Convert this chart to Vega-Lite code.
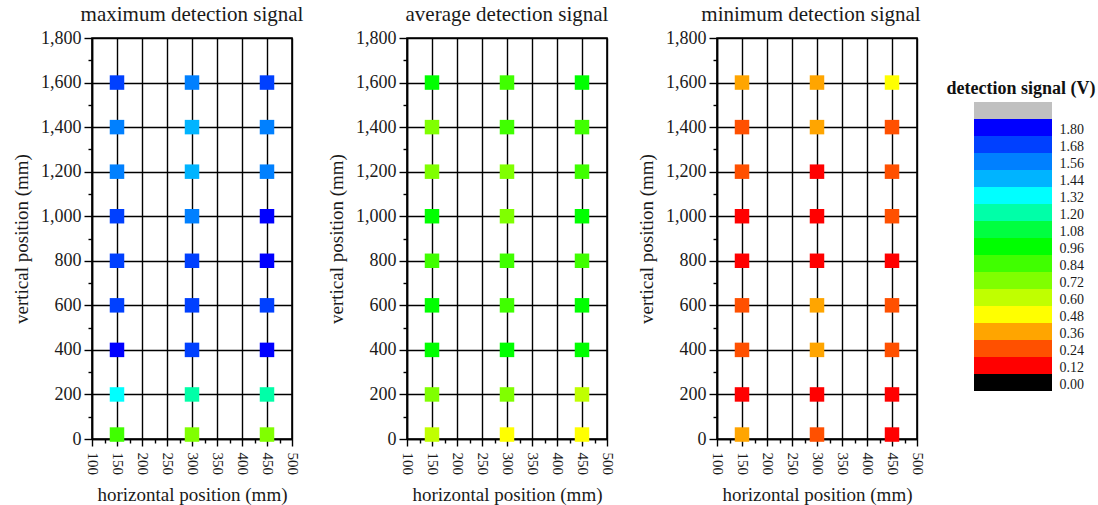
{
  "$schema": "https://vega.github.io/schema/vega-lite/v6.json",
  "background": "white",
  "padding": {"left": 11, "top": 3, "right": 2, "bottom": 0},
  "spacing": 21,
  "bounds": "full",
  "datasets": {
    "points": [
      {"panel": "max", "x": 150, "y": 1600, "signal": 1.63}, {"panel": "max", "x": 300, "y": 1600, "signal": 1.51}, {"panel": "max", "x": 450, "y": 1600, "signal": 1.62},
      {"panel": "max", "x": 150, "y": 1400, "signal": 1.49}, {"panel": "max", "x": 300, "y": 1400, "signal": 1.40}, {"panel": "max", "x": 450, "y": 1400, "signal": 1.50},
      {"panel": "max", "x": 150, "y": 1200, "signal": 1.47}, {"panel": "max", "x": 300, "y": 1200, "signal": 1.39}, {"panel": "max", "x": 450, "y": 1200, "signal": 1.48},
      {"panel": "max", "x": 150, "y": 1000, "signal": 1.61}, {"panel": "max", "x": 300, "y": 1000, "signal": 1.52}, {"panel": "max", "x": 450, "y": 1000, "signal": 1.72},
      {"panel": "max", "x": 150, "y": 800, "signal": 1.64}, {"panel": "max", "x": 300, "y": 800, "signal": 1.60}, {"panel": "max", "x": 450, "y": 800, "signal": 1.70},
      {"panel": "max", "x": 150, "y": 600, "signal": 1.62}, {"panel": "max", "x": 300, "y": 600, "signal": 1.60}, {"panel": "max", "x": 450, "y": 600, "signal": 1.63},
      {"panel": "max", "x": 150, "y": 400, "signal": 1.71}, {"panel": "max", "x": 300, "y": 400, "signal": 1.64}, {"panel": "max", "x": 450, "y": 400, "signal": 1.73},
      {"panel": "max", "x": 150, "y": 200, "signal": 1.27}, {"panel": "max", "x": 300, "y": 200, "signal": 1.15}, {"panel": "max", "x": 450, "y": 200, "signal": 1.16},
      {"panel": "max", "x": 150, "y": 20, "signal": 0.78}, {"panel": "max", "x": 300, "y": 20, "signal": 0.67}, {"panel": "max", "x": 450, "y": 20, "signal": 0.66},
      {"panel": "avg", "x": 150, "y": 1600, "signal": 0.90}, {"panel": "avg", "x": 300, "y": 1600, "signal": 0.80}, {"panel": "avg", "x": 450, "y": 1600, "signal": 0.91},
      {"panel": "avg", "x": 150, "y": 1400, "signal": 0.68}, {"panel": "avg", "x": 300, "y": 1400, "signal": 0.79}, {"panel": "avg", "x": 450, "y": 1400, "signal": 0.80},
      {"panel": "avg", "x": 150, "y": 1200, "signal": 0.67}, {"panel": "avg", "x": 300, "y": 1200, "signal": 0.70}, {"panel": "avg", "x": 450, "y": 1200, "signal": 0.79},
      {"panel": "avg", "x": 150, "y": 1000, "signal": 0.86}, {"panel": "avg", "x": 300, "y": 1000, "signal": 0.69}, {"panel": "avg", "x": 450, "y": 1000, "signal": 0.87},
      {"panel": "avg", "x": 150, "y": 800, "signal": 0.80}, {"panel": "avg", "x": 300, "y": 800, "signal": 0.79}, {"panel": "avg", "x": 450, "y": 800, "signal": 0.81},
      {"panel": "avg", "x": 150, "y": 600, "signal": 0.88}, {"panel": "avg", "x": 300, "y": 600, "signal": 0.80}, {"panel": "avg", "x": 450, "y": 600, "signal": 0.89},
      {"panel": "avg", "x": 150, "y": 400, "signal": 0.90}, {"panel": "avg", "x": 300, "y": 400, "signal": 0.89}, {"panel": "avg", "x": 450, "y": 400, "signal": 0.91},
      {"panel": "avg", "x": 150, "y": 200, "signal": 0.66}, {"panel": "avg", "x": 300, "y": 200, "signal": 0.67}, {"panel": "avg", "x": 450, "y": 200, "signal": 0.58},
      {"panel": "avg", "x": 150, "y": 20, "signal": 0.55}, {"panel": "avg", "x": 300, "y": 20, "signal": 0.44}, {"panel": "avg", "x": 450, "y": 20, "signal": 0.43},
      {"panel": "min", "x": 150, "y": 1600, "signal": 0.31}, {"panel": "min", "x": 300, "y": 1600, "signal": 0.30}, {"panel": "min", "x": 450, "y": 1600, "signal": 0.40},
      {"panel": "min", "x": 150, "y": 1400, "signal": 0.20}, {"panel": "min", "x": 300, "y": 1400, "signal": 0.29}, {"panel": "min", "x": 450, "y": 1400, "signal": 0.19},
      {"panel": "min", "x": 150, "y": 1200, "signal": 0.18}, {"panel": "min", "x": 300, "y": 1200, "signal": 0.08}, {"panel": "min", "x": 450, "y": 1200, "signal": 0.20},
      {"panel": "min", "x": 150, "y": 1000, "signal": 0.07}, {"panel": "min", "x": 300, "y": 1000, "signal": 0.09}, {"panel": "min", "x": 450, "y": 1000, "signal": 0.17},
      {"panel": "min", "x": 150, "y": 800, "signal": 0.06}, {"panel": "min", "x": 300, "y": 800, "signal": 0.08}, {"panel": "min", "x": 450, "y": 800, "signal": 0.07},
      {"panel": "min", "x": 150, "y": 600, "signal": 0.19}, {"panel": "min", "x": 300, "y": 600, "signal": 0.28}, {"panel": "min", "x": 450, "y": 600, "signal": 0.18},
      {"panel": "min", "x": 150, "y": 400, "signal": 0.20}, {"panel": "min", "x": 300, "y": 400, "signal": 0.30}, {"panel": "min", "x": 450, "y": 400, "signal": 0.21},
      {"panel": "min", "x": 150, "y": 200, "signal": 0.05}, {"panel": "min", "x": 300, "y": 200, "signal": 0.07}, {"panel": "min", "x": 450, "y": 200, "signal": 0.06},
      {"panel": "min", "x": 150, "y": 20, "signal": 0.29}, {"panel": "min", "x": 300, "y": 20, "signal": 0.17}, {"panel": "min", "x": 450, "y": 20, "signal": 0.08}
    ],
    "legend": [
      {"band": "title", "label": "detection signal (V)"},
      {"band": "grey", "signal": 1.90},
      {"band": "1.80", "signal": 1.74},
      {"band": "1.68", "signal": 1.62},
      {"band": "1.56", "signal": 1.50},
      {"band": "1.44", "signal": 1.38},
      {"band": "1.32", "signal": 1.26},
      {"band": "1.20", "signal": 1.14},
      {"band": "1.08", "signal": 1.02},
      {"band": "0.96", "signal": 0.90},
      {"band": "0.84", "signal": 0.78},
      {"band": "0.72", "signal": 0.66},
      {"band": "0.60", "signal": 0.54},
      {"band": "0.48", "signal": 0.42},
      {"band": "0.36", "signal": 0.30},
      {"band": "0.24", "signal": 0.18},
      {"band": "0.12", "signal": 0.06},
      {"band": "0.00", "signal": -0.06}
    ]
  },
  "hconcat": [
    {
      "width": 200, "height": 401,
      "title": "maximum detection signal",
      "data": {"name": "points"},
      "transform": [{"filter": "datum.panel === 'max'"}],
      "mark": {"type": "square", "size": 210, "opacity": 1},
      "encoding": {
        "x": {"field": "x", "type": "quantitative", "scale": {"domain": [100, 500], "nice": false, "zero": false},
          "axis": {"values": [100,125,150,175,200,225,250,275,300,325,350,375,400,425,450,475,500],
            "labelExpr": "datum.value % 50 === 0 ? datum.label : ''", "labelAngle": 90, "labelFontSize": 15, "labelPadding": 6,
            "tickSize": {"condition": {"test": "datum.value % 50 === 0", "value": 7}, "value": 4},
            "gridOpacity": {"condition": {"test": "datum.value % 50 === 0", "value": 1}, "value": 0},
            "title": "horizontal position (mm)", "titlePadding": 11}},
        "y": {"field": "y", "type": "quantitative", "scale": {"domain": [0, 1800], "nice": false},
          "axis": {"values": [0,100,200,300,400,500,600,700,800,900,1000,1100,1200,1300,1400,1500,1600,1700,1800], "format": ",d",
            "labelExpr": "datum.value % 200 === 0 ? datum.label : ''", "labelFontSize": 18, "labelPadding": 3,
            "tickSize": {"condition": {"test": "datum.value % 200 === 0", "value": 8}, "value": 4},
            "gridOpacity": {"condition": {"test": "datum.value % 200 === 0", "value": 1}, "value": 0},
            "title": "vertical position (mm)", "titlePadding": 9}},
        "color": {"field": "signal", "type": "quantitative", "legend": null,
          "scale": {"type": "threshold", "domain": [0, 0.12, 0.24, 0.36, 0.48, 0.6, 0.72, 0.84, 0.96, 1.08, 1.2, 1.32, 1.44, 1.56, 1.68, 1.8],
            "range": ["#000000", "#ff0000", "#ff5000", "#ffa500", "#ffff00", "#c0ff00", "#80ff00", "#40ff00", "#00ff00", "#00ff40", "#00ffa8", "#00ffff", "#00b4ff", "#0080ff", "#0040ff", "#0000ff", "#c0c0c0"]}}
      }
    },
    {
      "width": 200, "height": 401,
      "title": "average detection signal",
      "data": {"name": "points"},
      "transform": [{"filter": "datum.panel === 'avg'"}],
      "mark": {"type": "square", "size": 210, "opacity": 1},
      "encoding": {
        "x": {"field": "x", "type": "quantitative", "scale": {"domain": [100, 500], "nice": false, "zero": false},
          "axis": {"values": [100,125,150,175,200,225,250,275,300,325,350,375,400,425,450,475,500],
            "labelExpr": "datum.value % 50 === 0 ? datum.label : ''", "labelAngle": 90, "labelFontSize": 15, "labelPadding": 6,
            "tickSize": {"condition": {"test": "datum.value % 50 === 0", "value": 7}, "value": 4},
            "gridOpacity": {"condition": {"test": "datum.value % 50 === 0", "value": 1}, "value": 0},
            "title": "horizontal position (mm)", "titlePadding": 11}},
        "y": {"field": "y", "type": "quantitative", "scale": {"domain": [0, 1800], "nice": false},
          "axis": {"values": [0,100,200,300,400,500,600,700,800,900,1000,1100,1200,1300,1400,1500,1600,1700,1800], "format": ",d",
            "labelExpr": "datum.value % 200 === 0 ? datum.label : ''", "labelFontSize": 18, "labelPadding": 3,
            "tickSize": {"condition": {"test": "datum.value % 200 === 0", "value": 8}, "value": 4},
            "gridOpacity": {"condition": {"test": "datum.value % 200 === 0", "value": 1}, "value": 0},
            "title": "vertical position (mm)", "titlePadding": 9}},
        "color": {"field": "signal", "type": "quantitative", "legend": null,
          "scale": {"type": "threshold", "domain": [0, 0.12, 0.24, 0.36, 0.48, 0.6, 0.72, 0.84, 0.96, 1.08, 1.2, 1.32, 1.44, 1.56, 1.68, 1.8],
            "range": ["#000000", "#ff0000", "#ff5000", "#ffa500", "#ffff00", "#c0ff00", "#80ff00", "#40ff00", "#00ff00", "#00ff40", "#00ffa8", "#00ffff", "#00b4ff", "#0080ff", "#0040ff", "#0000ff", "#c0c0c0"]}}
      }
    },
    {
      "width": 200, "height": 401,
      "title": {"text": "minimum detection signal", "dx": -6},
      "data": {"name": "points"},
      "transform": [{"filter": "datum.panel === 'min'"}],
      "mark": {"type": "square", "size": 210, "opacity": 1},
      "encoding": {
        "x": {"field": "x", "type": "quantitative", "scale": {"domain": [100, 500], "nice": false, "zero": false},
          "axis": {"values": [100,125,150,175,200,225,250,275,300,325,350,375,400,425,450,475,500],
            "labelExpr": "datum.value % 50 === 0 ? datum.label : ''", "labelAngle": 90, "labelFontSize": 15, "labelPadding": 6,
            "tickSize": {"condition": {"test": "datum.value % 50 === 0", "value": 7}, "value": 4},
            "gridOpacity": {"condition": {"test": "datum.value % 50 === 0", "value": 1}, "value": 0},
            "title": "horizontal position (mm)", "titlePadding": 11}},
        "y": {"field": "y", "type": "quantitative", "scale": {"domain": [0, 1800], "nice": false},
          "axis": {"values": [0,100,200,300,400,500,600,700,800,900,1000,1100,1200,1300,1400,1500,1600,1700,1800], "format": ",d",
            "labelExpr": "datum.value % 200 === 0 ? datum.label : ''", "labelFontSize": 18, "labelPadding": 3,
            "tickSize": {"condition": {"test": "datum.value % 200 === 0", "value": 8}, "value": 4},
            "gridOpacity": {"condition": {"test": "datum.value % 200 === 0", "value": 1}, "value": 0},
            "title": "vertical position (mm)", "titlePadding": 9}},
        "color": {"field": "signal", "type": "quantitative", "legend": null,
          "scale": {"type": "threshold", "domain": [0, 0.12, 0.24, 0.36, 0.48, 0.6, 0.72, 0.84, 0.96, 1.08, 1.2, 1.32, 1.44, 1.56, 1.68, 1.8],
            "range": ["#000000", "#ff0000", "#ff5000", "#ffa500", "#ffff00", "#c0ff00", "#80ff00", "#40ff00", "#00ff00", "#00ff40", "#00ffa8", "#00ffff", "#00b4ff", "#0080ff", "#0040ff", "#0000ff", "#c0c0c0"]}}
      }
    },
    {
      "width": 78, "height": 401,
      "title": " ",
      "view": {"stroke": null},
      "data": {"name": "legend"},
      "layer": [
        {
          "transform": [{"filter": "datum.band !== 'title'"}],
          "mark": {"type": "rect"},
          "encoding": {
            "y": {"field": "band", "type": "nominal",
              "scale": {"domain": ["title", "grey", "1.80", "1.68", "1.56", "1.44", "1.32", "1.20", "1.08", "0.96", "0.84", "0.72", "0.60", "0.48", "0.36", "0.24", "0.12", "0.00"], "range": [47, 353], "paddingInner": 0, "paddingOuter": 0},
              "axis": {"orient": "right", "title": null, "domain": false, "ticks": false, "grid": false, "labelFontSize": 14, "labelPadding": 7, "labelOffset": 2,
                "labelExpr": "datum.value === 'grey' || datum.value === 'title' ? '' : datum.value"}},
            "color": {"field": "signal", "type": "quantitative", "legend": null,
              "scale": {"type": "threshold", "domain": [0, 0.12, 0.24, 0.36, 0.48, 0.6, 0.72, 0.84, 0.96, 1.08, 1.2, 1.32, 1.44, 1.56, 1.68, 1.8],
                "range": ["#000000", "#ff0000", "#ff5000", "#ffa500", "#ffff00", "#c0ff00", "#80ff00", "#40ff00", "#00ff00", "#00ff40", "#00ffa8", "#00ffff", "#00b4ff", "#0080ff", "#0040ff", "#0000ff", "#c0c0c0"]}}
          }
        },
        {
          "transform": [{"filter": "datum.band === 'title'"}],
          "mark": {"type": "text", "font": "Liberation Serif", "fontSize": 18, "fontWeight": "bold", "color": "#111", "dy": -5, "dx": 8},
          "encoding": {
            "y": {"field": "band", "type": "nominal"},
            "text": {"field": "label"}
          }
        }
      ]
    }
  ],
  "config": {
    "font": "Liberation Serif",
    "view": {"stroke": "#000", "strokeWidth": 1.6},
    "title": {"font": "Liberation Serif", "fontSize": 21, "fontWeight": "normal", "color": "#1a1a1a", "offset": 0},
    "axis": {
      "labelFont": "Liberation Serif", "titleFont": "Liberation Serif", "titleFontSize": 19, "titleFontWeight": "normal",
      "labelColor": "#1a1a1a", "titleColor": "#1a1a1a",
      "domainColor": "#000", "domainWidth": 1.6, "tickColor": "#000", "tickWidth": 1.4,
      "grid": true, "gridColor": "#000", "gridWidth": 1.4, "zindex": 1,
      "labelOverlap": false, "labelFlush": false, "labelBound": false
    }
  }
}
